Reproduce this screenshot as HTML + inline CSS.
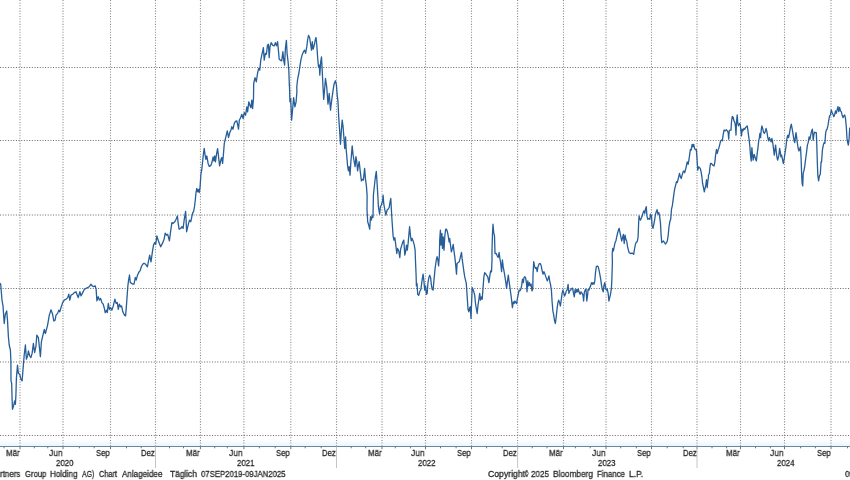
<!DOCTYPE html>
<html><head><meta charset="utf-8"><title>Chart</title>
<style>
html,body{margin:0;padding:0;background:#fff;}
body{width:850px;height:480px;position:relative;overflow:hidden;font-family:"Liberation Sans",sans-serif;color:#262626;}
.t{position:absolute;white-space:nowrap;transform-origin:0 0;will-change:transform;-webkit-text-stroke:0.27px #262626;}
</style></head><body>
<svg width="850" height="480" viewBox="0 0 850 480" style="position:absolute;left:0;top:0">
<defs><linearGradient id="g" x1="0" y1="0" x2="0" y2="1"><stop offset="0" stop-color="#edf6fb" stop-opacity="0"/><stop offset="1" stop-color="#e9f4fa" stop-opacity="1"/></linearGradient></defs><rect x="0" y="439" width="850" height="7.5" fill="url(#g)"/>
<line x1="20.00" y1="0" x2="20.00" y2="446" stroke="#8c8c8c" stroke-width="1.1" stroke-dasharray="1.05 1.6"/>
<line x1="63.00" y1="0" x2="63.00" y2="446" stroke="#8c8c8c" stroke-width="1.1" stroke-dasharray="1.05 1.6"/>
<line x1="110.50" y1="0" x2="110.50" y2="446" stroke="#8c8c8c" stroke-width="1.1" stroke-dasharray="1.05 1.6"/>
<line x1="155.50" y1="0" x2="155.50" y2="446" stroke="#8c8c8c" stroke-width="1.1" stroke-dasharray="1.05 1.6"/>
<line x1="200.45" y1="0" x2="200.45" y2="446" stroke="#8c8c8c" stroke-width="1.1" stroke-dasharray="1.05 1.6"/>
<line x1="243.90" y1="0" x2="243.90" y2="446" stroke="#8c8c8c" stroke-width="1.1" stroke-dasharray="1.05 1.6"/>
<line x1="290.80" y1="0" x2="290.80" y2="446" stroke="#8c8c8c" stroke-width="1.1" stroke-dasharray="1.05 1.6"/>
<line x1="336.50" y1="0" x2="336.50" y2="446" stroke="#8c8c8c" stroke-width="1.1" stroke-dasharray="1.05 1.6"/>
<line x1="382.00" y1="0" x2="382.00" y2="446" stroke="#8c8c8c" stroke-width="1.1" stroke-dasharray="1.05 1.6"/>
<line x1="425.50" y1="0" x2="425.50" y2="446" stroke="#8c8c8c" stroke-width="1.1" stroke-dasharray="1.05 1.6"/>
<line x1="471.50" y1="0" x2="471.50" y2="446" stroke="#8c8c8c" stroke-width="1.1" stroke-dasharray="1.05 1.6"/>
<line x1="517.60" y1="0" x2="517.60" y2="446" stroke="#8c8c8c" stroke-width="1.1" stroke-dasharray="1.05 1.6"/>
<line x1="563.50" y1="0" x2="563.50" y2="446" stroke="#8c8c8c" stroke-width="1.1" stroke-dasharray="1.05 1.6"/>
<line x1="606.00" y1="0" x2="606.00" y2="446" stroke="#8c8c8c" stroke-width="1.1" stroke-dasharray="1.05 1.6"/>
<line x1="651.50" y1="0" x2="651.50" y2="446" stroke="#8c8c8c" stroke-width="1.1" stroke-dasharray="1.05 1.6"/>
<line x1="697.00" y1="0" x2="697.00" y2="446" stroke="#8c8c8c" stroke-width="1.1" stroke-dasharray="1.05 1.6"/>
<line x1="740.50" y1="0" x2="740.50" y2="446" stroke="#8c8c8c" stroke-width="1.1" stroke-dasharray="1.05 1.6"/>
<line x1="784.50" y1="0" x2="784.50" y2="446" stroke="#8c8c8c" stroke-width="1.1" stroke-dasharray="1.05 1.6"/>
<line x1="831.00" y1="0" x2="831.00" y2="446" stroke="#8c8c8c" stroke-width="1.1" stroke-dasharray="1.05 1.6"/>
<line x1="0" y1="67.45" x2="850" y2="67.45" stroke="#6e6e6e" stroke-width="1.1" stroke-dasharray="1.05 1.6"/>
<line x1="0" y1="140.55" x2="850" y2="140.55" stroke="#6e6e6e" stroke-width="1.1" stroke-dasharray="1.05 1.6"/>
<line x1="0" y1="214.95" x2="850" y2="214.95" stroke="#6e6e6e" stroke-width="1.1" stroke-dasharray="1.05 1.6"/>
<line x1="0" y1="288.45" x2="850" y2="288.45" stroke="#6e6e6e" stroke-width="1.1" stroke-dasharray="1.05 1.6"/>
<line x1="0" y1="361.95" x2="850" y2="361.95" stroke="#6e6e6e" stroke-width="1.1" stroke-dasharray="1.05 1.6"/>
<line x1="0" y1="435.45" x2="850" y2="435.45" stroke="#6e6e6e" stroke-width="1.1" stroke-dasharray="1.05 1.6"/>
<line x1="0" y1="446.5" x2="850" y2="446.5" stroke="#67899f" stroke-width="1"/>
<line x1="20.0" y1="446.5" x2="20.0" y2="449.2" stroke="#5f7788" stroke-width="1"/>
<line x1="63.0" y1="446.5" x2="63.0" y2="449.2" stroke="#5f7788" stroke-width="1"/>
<line x1="110.5" y1="446.5" x2="110.5" y2="449.2" stroke="#5f7788" stroke-width="1"/>
<line x1="155.5" y1="446.5" x2="155.5" y2="449.2" stroke="#5f7788" stroke-width="1"/>
<line x1="200.4" y1="446.5" x2="200.4" y2="449.2" stroke="#5f7788" stroke-width="1"/>
<line x1="243.9" y1="446.5" x2="243.9" y2="449.2" stroke="#5f7788" stroke-width="1"/>
<line x1="290.8" y1="446.5" x2="290.8" y2="449.2" stroke="#5f7788" stroke-width="1"/>
<line x1="336.5" y1="446.5" x2="336.5" y2="449.2" stroke="#5f7788" stroke-width="1"/>
<line x1="382.0" y1="446.5" x2="382.0" y2="449.2" stroke="#5f7788" stroke-width="1"/>
<line x1="425.5" y1="446.5" x2="425.5" y2="449.2" stroke="#5f7788" stroke-width="1"/>
<line x1="471.5" y1="446.5" x2="471.5" y2="449.2" stroke="#5f7788" stroke-width="1"/>
<line x1="517.6" y1="446.5" x2="517.6" y2="449.2" stroke="#5f7788" stroke-width="1"/>
<line x1="563.5" y1="446.5" x2="563.5" y2="449.2" stroke="#5f7788" stroke-width="1"/>
<line x1="606.0" y1="446.5" x2="606.0" y2="449.2" stroke="#5f7788" stroke-width="1"/>
<line x1="651.5" y1="446.5" x2="651.5" y2="449.2" stroke="#5f7788" stroke-width="1"/>
<line x1="697.0" y1="446.5" x2="697.0" y2="449.2" stroke="#5f7788" stroke-width="1"/>
<line x1="740.5" y1="446.5" x2="740.5" y2="449.2" stroke="#5f7788" stroke-width="1"/>
<line x1="784.5" y1="446.5" x2="784.5" y2="449.2" stroke="#5f7788" stroke-width="1"/>
<line x1="831.0" y1="446.5" x2="831.0" y2="449.2" stroke="#5f7788" stroke-width="1"/>
<line x1="4.1" y1="446.5" x2="4.1" y2="448.3" stroke="#5f7788" stroke-width="1"/>
<line x1="34.3" y1="446.5" x2="34.3" y2="448.3" stroke="#5f7788" stroke-width="1"/>
<line x1="47.8" y1="446.5" x2="47.8" y2="448.3" stroke="#5f7788" stroke-width="1"/>
<line x1="79.4" y1="446.5" x2="79.4" y2="448.3" stroke="#5f7788" stroke-width="1"/>
<line x1="94.2" y1="446.5" x2="94.2" y2="448.3" stroke="#5f7788" stroke-width="1"/>
<line x1="126.5" y1="446.5" x2="126.5" y2="448.3" stroke="#5f7788" stroke-width="1"/>
<line x1="141.2" y1="446.5" x2="141.2" y2="448.3" stroke="#5f7788" stroke-width="1"/>
<line x1="169.5" y1="446.5" x2="169.5" y2="448.3" stroke="#5f7788" stroke-width="1"/>
<line x1="183.5" y1="446.5" x2="183.5" y2="448.3" stroke="#5f7788" stroke-width="1"/>
<line x1="214.7" y1="446.5" x2="214.7" y2="448.3" stroke="#5f7788" stroke-width="1"/>
<line x1="227.3" y1="446.5" x2="227.3" y2="448.3" stroke="#5f7788" stroke-width="1"/>
<line x1="259.4" y1="446.5" x2="259.4" y2="448.3" stroke="#5f7788" stroke-width="1"/>
<line x1="275.2" y1="446.5" x2="275.2" y2="448.3" stroke="#5f7788" stroke-width="1"/>
<line x1="305.2" y1="446.5" x2="305.2" y2="448.3" stroke="#5f7788" stroke-width="1"/>
<line x1="321.2" y1="446.5" x2="321.2" y2="448.3" stroke="#5f7788" stroke-width="1"/>
<line x1="351.2" y1="446.5" x2="351.2" y2="448.3" stroke="#5f7788" stroke-width="1"/>
<line x1="365.7" y1="446.5" x2="365.7" y2="448.3" stroke="#5f7788" stroke-width="1"/>
<line x1="395.3" y1="446.5" x2="395.3" y2="448.3" stroke="#5f7788" stroke-width="1"/>
<line x1="410.6" y1="446.5" x2="410.6" y2="448.3" stroke="#5f7788" stroke-width="1"/>
<line x1="440.5" y1="446.5" x2="440.5" y2="448.3" stroke="#5f7788" stroke-width="1"/>
<line x1="456.1" y1="446.5" x2="456.1" y2="448.3" stroke="#5f7788" stroke-width="1"/>
<line x1="486.6" y1="446.5" x2="486.6" y2="448.3" stroke="#5f7788" stroke-width="1"/>
<line x1="502.2" y1="446.5" x2="502.2" y2="448.3" stroke="#5f7788" stroke-width="1"/>
<line x1="532.2" y1="446.5" x2="532.2" y2="448.3" stroke="#5f7788" stroke-width="1"/>
<line x1="547.0" y1="446.5" x2="547.0" y2="448.3" stroke="#5f7788" stroke-width="1"/>
<line x1="575.4" y1="446.5" x2="575.4" y2="448.3" stroke="#5f7788" stroke-width="1"/>
<line x1="590.2" y1="446.5" x2="590.2" y2="448.3" stroke="#5f7788" stroke-width="1"/>
<line x1="620.7" y1="446.5" x2="620.7" y2="448.3" stroke="#5f7788" stroke-width="1"/>
<line x1="636.4" y1="446.5" x2="636.4" y2="448.3" stroke="#5f7788" stroke-width="1"/>
<line x1="667.2" y1="446.5" x2="667.2" y2="448.3" stroke="#5f7788" stroke-width="1"/>
<line x1="683.2" y1="446.5" x2="683.2" y2="448.3" stroke="#5f7788" stroke-width="1"/>
<line x1="712.0" y1="446.5" x2="712.0" y2="448.3" stroke="#5f7788" stroke-width="1"/>
<line x1="726.6" y1="446.5" x2="726.6" y2="448.3" stroke="#5f7788" stroke-width="1"/>
<line x1="755.5" y1="446.5" x2="755.5" y2="448.3" stroke="#5f7788" stroke-width="1"/>
<line x1="770.3" y1="446.5" x2="770.3" y2="448.3" stroke="#5f7788" stroke-width="1"/>
<line x1="800.6" y1="446.5" x2="800.6" y2="448.3" stroke="#5f7788" stroke-width="1"/>
<line x1="815.4" y1="446.5" x2="815.4" y2="448.3" stroke="#5f7788" stroke-width="1"/>
<line x1="847.5" y1="446.5" x2="847.5" y2="448.3" stroke="#5f7788" stroke-width="1"/>
<line x1="155.5" y1="446.5" x2="155.5" y2="468" stroke="#c3c6c9" stroke-width="1"/>
<line x1="336.5" y1="446.5" x2="336.5" y2="468" stroke="#c3c6c9" stroke-width="1"/>
<line x1="517.6" y1="446.5" x2="517.6" y2="468" stroke="#c3c6c9" stroke-width="1"/>
<line x1="697.0" y1="446.5" x2="697.0" y2="468" stroke="#c3c6c9" stroke-width="1"/>
<path d="M0.0 283.4 L0.7 284.2 L1.3 291.7 L2.0 300.1 L3.0 305.9 L4.2 323.5 L5.3 314.3 L6.7 310.9 L7.5 320.1 L8.4 336.8 L9.2 345.0 L10.4 350.0 L10.9 361.7 L11.0 380.9 L11.7 383.4 L12.0 396.8 L12.5 409.3 L13.7 405.2 L14.7 401.0 L15.4 404.3 L15.9 395.1 L16.4 378.4 L17.5 365.1 L18.4 373.4 L19.7 374.2 L20.9 379.3 L22.1 380.9 L23.1 368.4 L24.2 355.0 L25.4 345.0 L26.4 359.2 L27.6 355.9 L28.4 350.9 L29.7 355.9 L30.9 357.5 L32.1 353.4 L33.4 343.3 L34.6 352.5 L35.9 346.7 L36.8 335.2 L38.4 337.7 L40.4 356.7 L41.4 341.8 L43.1 334.3 L44.3 329.3 L45.4 333.5 L47.6 325.1 L49.3 315.1 L51.0 309.8 L52.6 314.3 L53.8 321.0 L55.1 320.1 L56.0 315.1 L57.6 313.4 L58.8 310.1 L59.8 311.8 L61.0 307.6 L62.6 302.6 L64.3 300.1 L66.0 299.2 L67.7 297.6 L68.8 294.2 L69.8 300.1 L71.0 295.1 L72.7 294.2 L74.3 292.6 L76.0 291.7 L77.2 295.1 L78.2 297.6 L79.9 291.7 L81.0 295.9 L82.7 292.6 L84.4 289.2 L86.0 288.4 L87.7 287.5 L89.4 286.7 L91.0 284.2 L92.2 285.9 L93.6 286.7 L95.2 285.9 L96.1 289.2 L96.9 300.9 L98.2 296.7 L99.4 300.1 L100.6 298.4 L101.9 302.6 L103.2 304.2 L104.4 308.4 L105.2 312.6 L106.6 310.1 L107.3 312.6 L108.3 303.4 L109.4 309.3 L110.6 307.6 L111.9 310.1 L113.3 305.9 L114.9 299.2 L116.1 303.4 L117.3 302.6 L118.3 309.3 L119.4 304.2 L120.6 306.8 L121.6 305.9 L122.8 311.8 L124.5 315.1 L125.6 315.9 L126.6 303.4 L127.8 286.7 L128.6 280.0 L129.5 275.0 L130.3 282.5 L131.6 283.4 L132.8 284.2 L134.0 284.2 L135.3 277.5 L136.2 280.0 L137.3 275.8 L138.7 272.5 L140.3 270.3 L141.3 266.8 L142.7 264.3 L144.0 263.2 L145.7 264.3 L147.4 266.8 L148.5 261.0 L149.7 255.1 L151.0 261.8 L152.4 251.8 L153.5 245.1 L154.7 242.6 L155.7 244.3 L156.9 235.9 L158.1 240.1 L159.4 243.4 L160.7 246.8 L162.4 243.4 L164.1 239.3 L165.2 233.1 L166.4 235.1 L167.7 234.3 L169.4 240.9 L170.7 230.9 L171.9 222.6 L173.1 223.4 L174.8 221.7 L176.1 219.2 L177.4 215.9 L178.1 222.6 L179.1 229.2 L180.8 228.4 L181.9 226.7 L183.1 228.4 L184.4 218.4 L185.6 211.4 L186.1 220.1 L186.6 231.8 L188.1 225.1 L189.5 220.1 L190.8 221.7 L192.0 215.9 L192.8 212.5 L193.6 211.7 L194.5 206.7 L195.3 200.0 L195.9 193.5 L196.7 188.5 L197.6 191.8 L198.4 189.3 L199.2 192.7 L200.1 186.8 L200.9 174.3 L201.7 170.1 L202.6 161.8 L203.4 154.2 L204.2 148.4 L205.1 155.1 L205.9 159.3 L206.8 155.9 L208.1 163.4 L209.3 166.4 L210.9 165.4 L212.1 161.8 L213.1 156.8 L213.9 160.9 L214.8 155.9 L215.4 161.8 L216.8 152.6 L217.6 148.7 L218.4 155.1 L219.6 165.9 L221.0 159.3 L221.8 157.6 L222.6 163.4 L223.5 153.4 L224.3 143.4 L225.5 138.4 L226.5 134.2 L227.3 130.9 L228.5 137.5 L229.8 132.5 L231.0 130.0 L231.8 126.7 L233.0 129.2 L234.3 123.3 L235.5 121.3 L236.8 120.8 L237.7 125.0 L238.5 129.2 L239.3 120.2 L240.6 117.7 L241.8 114.3 L243.1 118.5 L244.3 112.6 L245.6 115.2 L246.8 106.8 L247.6 111.8 L248.8 101.8 L249.8 105.1 L251.0 107.6 L251.8 100.1 L252.6 108.5 L253.5 98.4 L253.7 83.5 L255.0 77.6 L256.3 81.8 L257.5 73.5 L258.7 68.4 L259.7 70.1 L260.9 59.3 L262.0 54.2 L263.4 47.6 L264.2 60.1 L265.4 53.4 L266.4 54.2 L267.5 45.1 L268.4 44.2 L269.2 57.6 L270.0 46.7 L271.2 42.6 L272.6 45.1 L274.2 45.9 L275.4 42.6 L276.4 45.9 L277.6 41.7 L278.4 50.1 L279.2 59.3 L280.4 60.1 L281.7 60.9 L282.9 51.7 L283.7 60.1 L284.6 65.1 L285.4 48.4 L286.4 40.4 L287.1 53.4 L288.1 61.8 L288.8 70.1 L289.4 86.8 L289.4 83.4 L289.9 101.8 L290.7 98.4 L291.6 120.2 L292.7 108.5 L293.6 97.6 L294.9 106.8 L296.1 101.8 L296.9 91.8 L296.8 86.8 L297.6 79.3 L298.8 73.5 L299.8 66.8 L301.0 59.3 L302.1 55.1 L303.5 51.7 L304.6 50.1 L305.6 53.4 L306.8 46.7 L307.6 40.0 L308.5 35.4 L309.6 37.5 L310.5 43.4 L311.5 50.1 L312.3 41.7 L313.1 49.2 L314.3 45.1 L315.2 40.0 L316.0 37.5 L316.8 45.1 L317.7 58.4 L318.5 66.8 L319.3 65.1 L319.8 75.1 L320.7 61.8 L321.5 56.8 L322.2 70.1 L323.0 86.8 L323.7 99.4 L324.5 90.2 L325.5 78.5 L326.7 86.7 L328.0 104.2 L329.2 93.4 L330.5 110.1 L331.7 100.1 L333.0 90.9 L334.2 83.4 L335.4 80.8 L336.4 85.0 L337.2 95.0 L338.0 101.7 L338.7 116.8 L339.7 131.8 L340.5 144.3 L341.4 130.1 L342.2 120.1 L343.1 126.8 L344.2 141.8 L344.7 148.5 L345.6 136.8 L346.2 150.2 L346.7 155.0 L347.5 165.1 L348.4 170.9 L349.2 166.7 L350.0 175.1 L350.9 161.7 L352.2 145.8 L353.1 155.0 L353.9 160.0 L355.1 166.7 L355.9 156.7 L356.7 160.9 L357.6 170.9 L358.4 165.1 L359.2 161.7 L360.1 170.1 L361.4 180.9 L362.6 179.3 L363.4 180.1 L364.6 168.4 L365.4 178.4 L366.4 185.9 L367.1 195.1 L367.0 210.0 L367.7 221.7 L368.7 225.1 L369.7 229.2 L370.5 216.7 L371.4 220.0 L372.2 215.9 L373.0 217.5 L373.4 195.1 L374.3 186.8 L375.4 176.8 L376.3 171.4 L377.1 183.4 L377.9 196.8 L378.4 206.7 L379.6 214.2 L380.4 206.7 L381.4 205.0 L382.6 200.8 L383.1 195.1 L383.7 203.3 L384.7 209.2 L385.9 215.0 L387.1 210.0 L388.1 209.2 L389.2 207.5 L390.1 201.7 L390.8 198.5 L391.4 210.0 L392.1 221.7 L393.1 235.9 L393.9 240.1 L394.8 237.6 L395.6 243.4 L396.8 253.5 L397.6 248.4 L398.8 251.0 L399.8 257.6 L400.6 249.3 L401.8 245.1 L402.9 241.8 L403.8 240.1 L404.8 255.1 L405.6 251.8 L406.5 245.1 L407.3 250.1 L408.1 243.4 L409.0 233.4 L409.6 226.7 L410.5 235.9 L411.3 240.9 L412.1 238.4 L413.1 240.9 L414.3 245.1 L415.1 250.1 L415.6 263.5 L416.1 275.2 L416.4 285.9 L417.0 283.4 L417.7 294.3 L418.7 295.4 L419.7 291.8 L420.9 289.3 L422.1 280.1 L423.1 274.2 L423.9 280.9 L424.7 290.1 L425.6 285.9 L426.4 294.3 L427.2 293.4 L427.9 283.4 L428.7 278.4 L429.7 275.1 L430.6 277.6 L431.4 285.1 L432.2 289.3 L433.1 290.1 L433.9 280.9 L435.1 268.4 L436.3 260.0 L437.1 256.7 L437.9 260.0 L438.6 265.9 L439.4 255.0 L439.7 240.1 L440.4 230.1 L441.0 245.1 L441.9 233.4 L442.5 248.4 L443.2 236.8 L444.0 250.1 L444.9 235.1 L445.7 229.2 L446.5 229.2 L447.4 231.7 L448.2 235.9 L449.1 241.8 L449.7 238.4 L450.6 245.9 L451.4 251.8 L452.4 248.4 L453.2 244.3 L454.1 251.8 L454.9 257.6 L455.6 264.2 L456.5 274.2 L457.1 263.4 L458.1 262.5 L459.3 261.7 L460.5 256.7 L461.5 252.5 L462.1 258.4 L463.0 265.0 L463.8 270.9 L464.7 276.7 L465.5 280.1 L466.3 283.4 L467.2 296.8 L468.0 309.3 L468.8 311.8 L469.7 307.6 L470.3 306.8 L471.0 318.5 L471.5 305.1 L472.2 287.6 L473.0 289.3 L473.8 291.8 L474.7 295.1 L475.5 303.5 L476.3 308.5 L477.2 313.5 L478.0 305.1 L478.9 299.3 L479.7 293.4 L480.5 300.1 L481.4 296.8 L482.2 299.3 L483.0 288.4 L483.9 276.7 L484.7 272.6 L485.5 273.4 L486.5 275.1 L487.7 276.7 L488.9 282.6 L489.9 275.1 L490.7 270.9 L491.5 271.7 L492.0 260.0 L492.0 250.1 L492.5 233.4 L493.0 224.2 L493.7 232.6 L494.5 235.9 L495.0 253.5 L496.1 253.3 L497.2 255.8 L498.2 257.5 L499.1 252.5 L499.9 258.4 L500.7 263.4 L501.6 271.7 L502.4 260.0 L503.2 266.7 L504.4 273.4 L505.6 280.9 L506.6 288.4 L507.4 281.7 L508.3 275.1 L509.1 281.7 L510.3 290.1 L511.4 298.4 L512.4 307.6 L513.3 301.8 L514.1 303.5 L514.9 301.0 L515.8 302.6 L516.6 303.5 L517.4 298.4 L518.3 294.3 L519.1 290.1 L519.9 290.9 L520.8 289.3 L521.6 285.9 L522.5 279.2 L523.3 282.6 L524.0 277.6 L524.8 276.7 L525.6 277.6 L526.5 283.4 L527.0 291.8 L527.8 280.9 L528.6 285.9 L529.5 282.6 L530.3 285.9 L531.1 284.2 L532.0 290.9 L532.8 289.3 L533.0 275.1 L533.7 261.7 L534.5 265.9 L535.3 268.4 L536.3 267.6 L537.2 271.7 L538.0 266.7 L539.2 263.7 L540.4 263.7 L541.2 265.9 L542.0 270.1 L543.0 274.2 L543.9 271.7 L544.7 273.4 L545.5 275.9 L546.4 278.4 L547.2 280.9 L548.0 279.2 L548.9 275.9 L549.7 280.9 L550.5 284.3 L551.4 290.1 L552.1 301.8 L552.9 311.0 L553.7 315.2 L554.6 321.0 L555.4 323.5 L556.2 316.8 L557.1 308.5 L557.9 302.6 L558.7 300.1 L559.6 302.6 L560.4 306.0 L561.2 300.1 L562.1 293.4 L562.9 290.1 L563.7 292.6 L564.6 296.0 L565.4 294.3 L566.3 290.9 L567.1 290.1 L568.1 284.3 L568.9 293.4 L569.8 290.9 L570.6 290.1 L571.4 288.8 L572.6 288.1 L573.4 292.6 L574.3 296.8 L575.1 289.3 L575.9 292.6 L576.8 289.3 L577.6 291.8 L578.4 289.3 L579.3 292.6 L580.1 294.3 L581.0 291.8 L582.1 293.4 L583.0 295.1 L583.6 301.0 L584.3 292.6 L585.1 290.1 L586.0 289.3 L586.8 301.0 L587.6 295.1 L588.1 289.3 L589.0 290.1 L589.8 287.6 L590.6 285.9 L591.5 282.6 L592.3 284.3 L593.1 282.6 L594.0 284.3 L594.8 280.9 L595.5 272.6 L596.3 266.7 L597.2 265.9 L598.2 266.7 L599.0 270.1 L599.8 274.2 L600.7 279.2 L601.5 285.1 L602.3 289.3 L603.2 291.8 L604.0 285.1 L604.8 282.6 L605.7 288.4 L606.5 290.1 L607.3 289.3 L608.2 293.4 L608.9 301.0 L609.7 297.6 L610.5 294.3 L611.4 288.4 L611.9 278.4 L612.4 261.7 L612.2 253.5 L612.7 248.5 L613.4 251.0 L614.2 246.8 L615.0 242.6 L615.9 241.0 L616.7 236.8 L617.5 233.5 L618.4 230.1 L619.2 228.4 L620.0 232.6 L620.9 236.8 L621.7 241.0 L622.6 237.6 L623.4 234.3 L624.2 243.5 L625.1 235.1 L625.9 239.3 L626.7 241.0 L627.6 246.8 L628.4 250.2 L629.2 252.7 L630.4 253.5 L631.7 253.2 L632.9 253.5 L633.7 254.3 L634.6 248.5 L635.4 244.3 L636.4 242.1 L637.3 241.5 L638.1 236.8 L638.6 223.4 L639.1 215.9 L639.8 219.3 L640.6 220.1 L641.4 217.6 L642.3 215.9 L643.1 212.6 L643.9 210.9 L644.8 213.4 L645.4 209.2 L646.3 206.7 L646.9 215.9 L647.8 219.3 L648.8 218.4 L649.8 219.3 L650.6 214.2 L651.5 215.9 L652.1 225.9 L653.0 228.4 L653.8 224.3 L654.6 220.1 L655.5 214.2 L656.3 211.7 L657.1 209.7 L658.0 214.2 L658.8 212.6 L659.6 215.9 L660.5 223.4 L661.1 235.1 L661.8 242.6 L662.6 241.8 L663.5 241.0 L664.5 242.6 L665.5 244.0 L666.5 242.6 L667.3 241.0 L668.2 235.1 L669.0 226.8 L669.8 221.8 L670.7 219.3 L671.5 209.2 L672.3 205.9 L673.2 199.2 L674.0 193.4 L674.8 188.4 L675.7 185.0 L676.5 181.7 L677.3 182.5 L678.7 176.8 L679.5 173.5 L680.4 176.8 L681.2 178.5 L682.1 175.2 L683.1 171.8 L683.9 171.0 L684.7 172.7 L685.6 169.3 L686.4 166.0 L687.2 161.8 L688.1 164.3 L688.9 160.1 L689.7 154.3 L690.4 149.3 L691.2 150.1 L692.1 144.3 L692.9 146.8 L693.7 144.3 L694.6 148.4 L695.4 149.8 L696.3 149.3 L696.8 155.1 L697.3 163.5 L697.8 170.2 L698.6 166.8 L699.4 167.6 L700.3 168.5 L701.1 171.8 L701.9 176.8 L702.6 183.5 L703.5 187.6 L704.3 191.9 L705.0 188.7 L705.9 184.4 L706.5 179.7 L707.2 187.6 L707.8 181.3 L708.5 177.0 L708.4 175.2 L709.3 173.5 L709.8 168.5 L710.5 163.5 L711.3 163.5 L712.1 164.3 L713.1 165.5 L714.0 166.0 L714.8 162.6 L715.6 155.1 L716.5 149.3 L717.3 153.4 L718.1 150.1 L719.0 147.6 L719.8 144.3 L720.6 140.9 L721.5 140.1 L722.3 140.9 L723.1 135.1 L724.0 130.1 L725.2 130.9 L726.3 129.7 L727.3 130.9 L728.2 132.6 L728.7 139.2 L729.2 130.9 L730.2 130.1 L731.0 130.1 L731.5 121.7 L732.3 116.4 L733.2 117.5 L734.0 120.9 L734.8 122.5 L735.5 126.7 L736.0 135.1 L736.5 121.7 L737.2 115.0 L737.8 123.4 L738.5 125.9 L739.4 123.4 L740.2 124.2 L740.9 130.1 L741.5 135.9 L742.2 129.2 L743.0 130.9 L743.9 128.4 L744.7 129.2 L745.5 127.6 L746.4 126.7 L747.2 125.9 L747.9 130.1 L748.5 135.1 L749.2 140.1 L749.9 146.8 L750.5 155.1 L751.2 161.0 L751.9 147.6 L752.5 155.1 L753.2 160.1 L754.1 154.3 L754.9 156.8 L755.7 159.3 L756.4 161.0 L757.2 153.4 L758.1 146.8 L758.7 140.9 L759.4 137.6 L759.9 133.4 L760.6 137.6 L761.2 130.1 L761.9 125.9 L762.7 128.4 L763.6 132.6 L764.4 133.4 L765.2 131.7 L766.1 128.4 L766.9 131.7 L767.8 137.6 L768.6 140.9 L769.4 137.6 L770.3 140.1 L771.1 141.8 L771.9 138.4 L772.8 143.4 L773.6 149.3 L774.3 155.1 L774.9 150.1 L775.6 145.1 L776.3 151.8 L776.9 156.8 L777.6 160.1 L778.3 157.6 L778.9 155.1 L779.6 148.4 L780.3 151.8 L780.9 156.8 L781.6 155.1 L782.5 159.3 L783.3 163.5 L784.0 160.1 L784.6 156.0 L785.3 150.9 L786.0 146.8 L786.6 140.9 L787.3 136.7 L788.0 135.1 L788.6 137.6 L789.3 134.2 L790.0 130.1 L790.6 126.7 L791.3 124.2 L792.4 130.1 L793.2 135.1 L794.0 140.1 L794.7 142.6 L795.4 136.8 L796.0 132.6 L796.7 137.6 L797.4 143.4 L798.2 148.5 L799.0 151.0 L799.9 148.5 L800.5 146.8 L801.1 158.4 L801.6 173.4 L802.1 183.4 L802.7 185.9 L803.2 173.4 L804.1 170.1 L804.9 165.2 L805.7 158.5 L806.6 151.8 L807.4 145.1 L808.2 142.6 L809.1 136.8 L809.9 139.3 L810.7 135.1 L811.6 130.9 L812.4 129.2 L813.2 140.1 L813.9 134.3 L814.6 132.1 L815.4 132.6 L816.3 132.6 L816.8 145.1 L817.3 161.7 L817.8 175.1 L818.6 180.9 L819.4 175.9 L820.3 174.2 L821.1 161.7 L821.6 161.8 L822.4 150.1 L823.3 145.1 L824.1 142.6 L824.9 143.4 L825.6 133.4 L826.3 130.1 L827.1 129.2 L827.9 125.9 L828.8 120.1 L829.6 115.9 L830.5 115.0 L831.3 110.0 L832.1 112.5 L833.0 114.2 L833.8 116.7 L834.6 115.0 L835.5 110.9 L836.3 113.4 L837.1 110.0 L838.0 106.7 L838.8 111.7 L839.6 107.5 L840.5 110.9 L841.3 111.7 L842.1 115.0 L843.0 117.6 L843.8 115.9 L844.7 115.0 L845.5 118.4 L846.3 126.7 L847.0 138.4 L847.7 142.6 L848.3 145.1 L849.0 140.1 L849.7 128.4 L850.3 127.6" fill="none" stroke="#265e99" stroke-width="1.3" stroke-linejoin="round" stroke-linecap="round"/>
</svg>
<div class="t" style="left:5.50px;top:448.78px;font-size:9.00px;line-height:9.00px;transform:scaleX(0.8839)">Mär</div>
<div class="t" style="left:48.50px;top:448.78px;font-size:9.00px;line-height:9.00px;transform:scaleX(0.9441)">Jun</div>
<div class="t" style="left:96.00px;top:448.78px;font-size:9.00px;line-height:9.00px;transform:scaleX(0.8555)">Sep</div>
<div class="t" style="left:141.00px;top:448.78px;font-size:9.00px;line-height:9.00px;transform:scaleX(0.8560)">Dez</div>
<div class="t" style="left:185.95px;top:448.78px;font-size:9.00px;line-height:9.00px;transform:scaleX(0.8839)">Mär</div>
<div class="t" style="left:229.40px;top:448.78px;font-size:9.00px;line-height:9.00px;transform:scaleX(0.9441)">Jun</div>
<div class="t" style="left:276.30px;top:448.78px;font-size:9.00px;line-height:9.00px;transform:scaleX(0.8555)">Sep</div>
<div class="t" style="left:322.00px;top:448.78px;font-size:9.00px;line-height:9.00px;transform:scaleX(0.8560)">Dez</div>
<div class="t" style="left:367.50px;top:448.78px;font-size:9.00px;line-height:9.00px;transform:scaleX(0.8839)">Mär</div>
<div class="t" style="left:411.00px;top:448.78px;font-size:9.00px;line-height:9.00px;transform:scaleX(0.9441)">Jun</div>
<div class="t" style="left:457.00px;top:448.78px;font-size:9.00px;line-height:9.00px;transform:scaleX(0.8555)">Sep</div>
<div class="t" style="left:503.10px;top:448.78px;font-size:9.00px;line-height:9.00px;transform:scaleX(0.8560)">Dez</div>
<div class="t" style="left:549.00px;top:448.78px;font-size:9.00px;line-height:9.00px;transform:scaleX(0.8839)">Mär</div>
<div class="t" style="left:591.50px;top:448.78px;font-size:9.00px;line-height:9.00px;transform:scaleX(0.9441)">Jun</div>
<div class="t" style="left:637.00px;top:448.78px;font-size:9.00px;line-height:9.00px;transform:scaleX(0.8555)">Sep</div>
<div class="t" style="left:682.50px;top:448.78px;font-size:9.00px;line-height:9.00px;transform:scaleX(0.8560)">Dez</div>
<div class="t" style="left:726.00px;top:448.78px;font-size:9.00px;line-height:9.00px;transform:scaleX(0.8839)">Mär</div>
<div class="t" style="left:770.00px;top:448.78px;font-size:9.00px;line-height:9.00px;transform:scaleX(0.9441)">Jun</div>
<div class="t" style="left:816.50px;top:448.78px;font-size:9.00px;line-height:9.00px;transform:scaleX(0.8555)">Sep</div>
<div class="t" style="left:55.75px;top:458.73px;font-size:9.30px;line-height:9.30px;transform:scaleX(0.8459)">2020</div>
<div class="t" style="left:236.85px;top:458.73px;font-size:9.30px;line-height:9.30px;transform:scaleX(0.8459)">2021</div>
<div class="t" style="left:417.95px;top:458.73px;font-size:9.30px;line-height:9.30px;transform:scaleX(0.8459)">2022</div>
<div class="t" style="left:597.95px;top:458.73px;font-size:9.30px;line-height:9.30px;transform:scaleX(0.8459)">2023</div>
<div class="t" style="left:776.95px;top:458.73px;font-size:9.30px;line-height:9.30px;transform:scaleX(0.8459)">2024</div>
<div class="t" style="left:0.20px;top:469.94px;font-size:8.70px;line-height:8.70px;transform:scaleX(0.9173)">rtners</div>
<div class="t" style="left:25.00px;top:469.94px;font-size:8.70px;line-height:8.70px;transform:scaleX(0.8850)">Group</div>
<div class="t" style="left:50.00px;top:469.94px;font-size:8.70px;line-height:8.70px;transform:scaleX(0.9355)">Holding</div>
<div class="t" style="left:81.60px;top:469.94px;font-size:8.70px;line-height:8.70px;transform:scaleX(0.8017)">AG)</div>
<div class="t" style="left:99.00px;top:469.94px;font-size:8.70px;line-height:8.70px;transform:scaleX(0.8461)">Chart</div>
<div class="t" style="left:122.00px;top:469.94px;font-size:8.70px;line-height:8.70px;transform:scaleX(0.9279)">Anlageidee</div>
<div class="t" style="left:169.80px;top:469.94px;font-size:8.70px;line-height:8.70px;transform:scaleX(0.9627)">Täglich</div>
<div class="t" style="left:201.20px;top:469.94px;font-size:8.70px;line-height:8.70px;transform:scaleX(0.8934)">07SEP2019-09JAN2025</div>
<div class="t" style="left:487.60px;top:469.94px;font-size:8.70px;line-height:8.70px;transform:scaleX(0.9937)">Copyright</div>
<div class="t" style="left:525.00px;top:469.94px;font-size:8.70px;line-height:8.70px;transform:scaleX(0.5304)">©</div>
<div class="t" style="left:531.00px;top:469.94px;font-size:8.70px;line-height:8.70px;transform:scaleX(0.9300)">2025</div>
<div class="t" style="left:553.00px;top:469.94px;font-size:8.70px;line-height:8.70px;transform:scaleX(0.9507)">Bloomberg</div>
<div class="t" style="left:597.00px;top:469.94px;font-size:8.70px;line-height:8.70px;transform:scaleX(0.9046)">Finance</div>
<div class="t" style="left:629.00px;top:469.94px;font-size:8.70px;line-height:8.70px;transform:scaleX(0.9753)">L.P.</div>
<div class="t" style="left:845.00px;top:469.94px;font-size:8.70px;line-height:8.70px;transform:scaleX(0.8990)">09</div>
</body></html>
